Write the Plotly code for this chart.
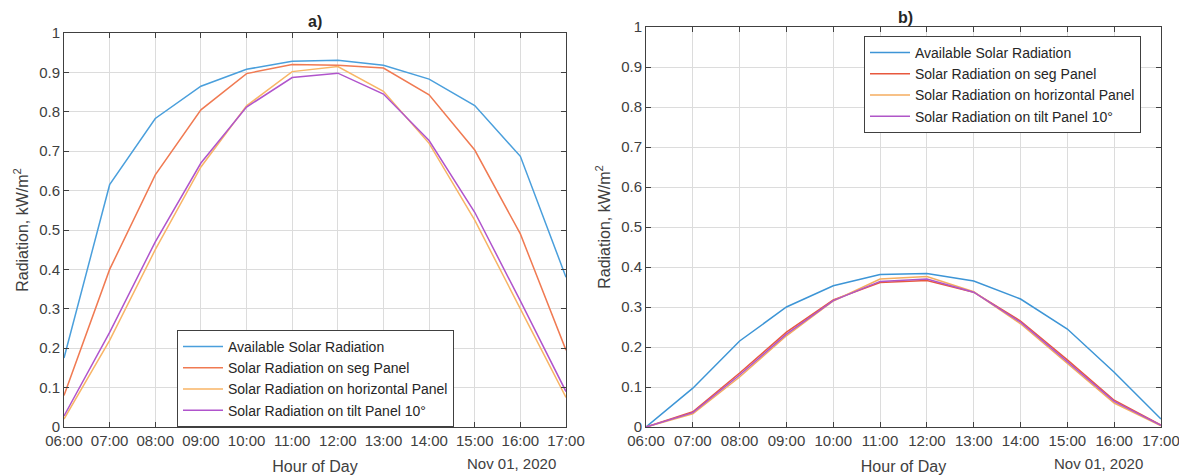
import plotly.graph_objects as go

hours = ["06:00", "07:00", "08:00", "09:00", "10:00", "11:00",
         "12:00", "13:00", "14:00", "15:00", "16:00", "17:00"]
x_times = ["2020-11-01 " + h for h in hours]

series_names = ["Available Solar Radiation",
                "Solar Radiation on seg Panel",
                "Solar Radiation on horizontal Panel",
                "Solar Radiation on tilt Panel 10°"]

# panel a)
a_available = [0.175, 0.615, 0.783, 0.865, 0.908, 0.928, 0.931, 0.918, 0.883, 0.816, 0.687, 0.380]
a_seg = [0.080, 0.400, 0.640, 0.805, 0.897, 0.920, 0.918, 0.911, 0.843, 0.703, 0.490, 0.195]
a_horizontal = [0.020, 0.220, 0.450, 0.660, 0.815, 0.902, 0.915, 0.852, 0.720, 0.525, 0.300, 0.075]
a_tilt = [0.028, 0.240, 0.470, 0.670, 0.812, 0.887, 0.898, 0.845, 0.727, 0.545, 0.320, 0.090]

# panel b)
b_available = [0.000, 0.097, 0.215, 0.300, 0.353, 0.381, 0.384, 0.365, 0.320, 0.245, 0.137, 0.020]
b_seg = [0.000, 0.038, 0.135, 0.237, 0.318, 0.361, 0.366, 0.337, 0.265, 0.168, 0.067, 0.005]
b_horizontal = [0.000, 0.033, 0.125, 0.228, 0.315, 0.370, 0.376, 0.338, 0.258, 0.158, 0.060, 0.003]
b_tilt = [0.000, 0.036, 0.130, 0.232, 0.316, 0.364, 0.370, 0.337, 0.262, 0.163, 0.064, 0.004]

colors_a = ["#4a9fdc", "#f07a52", "#f8b566", "#b054cc"]
colors_b = ["#3d95d6", "#e8583e", "#f5ad5f", "#b056c8"]

FONT = "Liberation Sans, Arial, sans-serif"

W, H = 1179, 475
# plot area in window pixels
X0, X1, Y0, Y1 = 64, 1161, 27, 427
PW, PH = X1 - X0, Y1 - Y0

def px(x):
    return (x - X0) / PW

def py(y):
    return (Y1 - y) / PH

fig = go.Figure()

for name, ys, c in zip(series_names, [a_available, a_seg, a_horizontal, a_tilt], colors_a):
    fig.add_trace(go.Scatter(x=x_times, y=ys, mode="lines", name=name,
                             line=dict(color=c, width=1.5),
                             xaxis="x", yaxis="y", legend="legend"))
for name, ys, c in zip(series_names, [b_available, b_seg, b_horizontal, b_tilt], colors_b):
    fig.add_trace(go.Scatter(x=x_times, y=ys, mode="lines", name=name,
                             line=dict(color=c, width=1.5),
                             xaxis="x2", yaxis="y2", legend="legend2"))

def xaxis_style(domain, anchor):
    return dict(domain=domain, anchor=anchor, type="date",
                range=[x_times[0], x_times[-1]],
                tickformat="%H:%M", dtick=3600000, tick0=x_times[0],
                showgrid=True, gridcolor="#dcdcdc", gridwidth=1,
                showline=True, linecolor="#404040", linewidth=1, mirror="ticks",
                ticks="inside", ticklen=5, tickcolor="#404040",
                tickfont=dict(family=FONT, size=15, color="#404040"),
                ticklabeloverflow="allow",
                title=dict(text="Hour of Day", font=dict(family=FONT, size=16, color="#404040"),
                           standoff=12),
                automargin=False, zeroline=False)

def yaxis_style(domain, anchor):
    return dict(domain=domain, anchor=anchor, range=[0, 1], dtick=0.1,
                tickformat="~g",
                showgrid=True, gridcolor="#dcdcdc", gridwidth=1,
                showline=True, linecolor="#404040", linewidth=1, mirror="ticks",
                ticks="inside", ticklen=5, tickcolor="#404040",
                tickfont=dict(family=FONT, size=15, color="#404040"),
                title=dict(text="Radiation, kW/m<sup>2</sup>",
                           font=dict(family=FONT, size=16, color="#404040"), standoff=6),
                automargin=False, zeroline=False)

legend_common = dict(bgcolor="white", bordercolor="#404040", borderwidth=1,
                     font=dict(family=FONT, size=14, color="#262626"),
                     xanchor="left", yanchor="top", tracegroupgap=0, itemwidth=40)

def label(text, x, y, size, color):
    return dict(text=text, x=px(x), y=py(y), xref="paper", yref="paper",
                xanchor="center", yanchor="middle", showarrow=False,
                font=dict(family=FONT, size=size, color=color))

fig.update_layout(
    width=W, height=H,
    margin=dict(l=X0, r=W - X1, t=Y0, b=H - Y1, autoexpand=False),
    paper_bgcolor="white", plot_bgcolor="white",
    xaxis=xaxis_style([px(64), px(566)], "y"),
    yaxis=yaxis_style([py(427), py(33)], "x"),
    xaxis2=xaxis_style([px(646), px(1161)], "y2"),
    yaxis2=yaxis_style([py(427), py(27)], "x2"),
    legend=dict(x=px(177), y=py(330), **legend_common),
    legend2=dict(x=px(864), y=py(36), **legend_common),
    annotations=[
        label("<b>a)</b>", 315, 21, 16, "#262626"),
        label("<b>b)</b>", 905, 17, 16, "#262626"),
        label("Nov 01, 2020", 511, 463, 15, "#404040"),
        label("Nov 01, 2020", 1098, 463, 15, "#404040"),
    ],
)

fig.write_html(
    "out.html",
    config={"displayModeBar": False},
    post_script="document.body.style.margin='0';document.body.style.overflow='hidden';",
)
